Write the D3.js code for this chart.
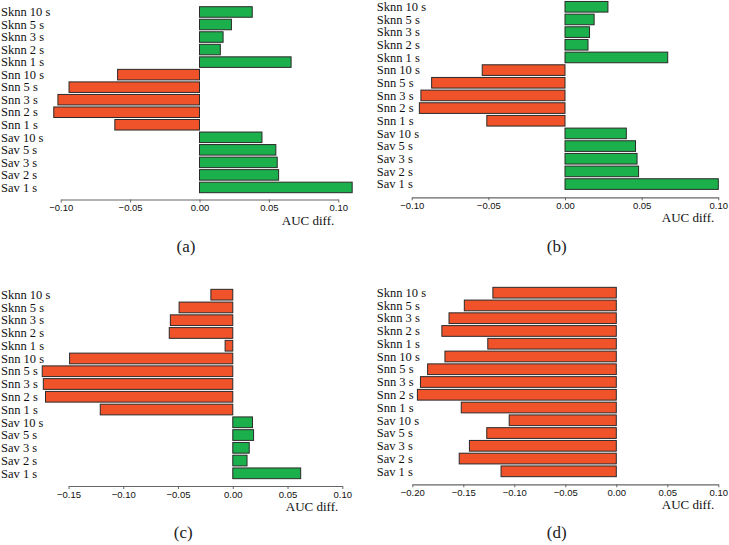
<!DOCTYPE html>
<html>
<head>
<meta charset="utf-8">
<script src="https://cdn.jsdelivr.net/npm/d3@7"></script>
<style>
  html, body { margin: 0; padding: 0; background: #fff; }
  svg { display: block; }
</style>
</head>
<body>
<svg id="chart" width="729" height="545"></svg>
<script>
// ---- data ----
const categories = ["Sknn 10 s","Sknn 5 s","Sknn 3 s","Sknn 2 s","Sknn 1 s",
                    "Snn 10 s","Snn 5 s","Snn 3 s","Snn 2 s","Snn 1 s",
                    "Sav 10 s","Sav 5 s","Sav 3 s","Sav 2 s","Sav 1 s"];
const valuesA = [0.038, 0.023, 0.017, 0.015, 0.066,
                 -0.059, -0.094, -0.102, -0.105, -0.061,
                 0.045, 0.055, 0.056, 0.057, 0.110];
const valuesB = [0.028, 0.019, 0.016, 0.015, 0.067,
                 -0.054, -0.087, -0.094, -0.095, -0.051,
                 0.040, 0.046, 0.047, 0.048, 0.100];
const valuesC = [-0.020, -0.049, -0.057, -0.058, -0.007,
                 -0.149, -0.174, -0.173, -0.171, -0.121,
                 0.018, 0.019, 0.015, 0.013, 0.062];
const valuesD = [-0.121, -0.149, -0.164, -0.171, -0.126,
                 -0.168, -0.185, -0.192, -0.195, -0.152,
                 -0.105, -0.127, -0.144, -0.154, -0.113];
const ticksA = [-0.10, -0.05, 0.00, 0.05, 0.10];
const ticksB = [-0.10, -0.05, 0.00, 0.05, 0.10];
const ticksC = [-0.15, -0.10, -0.05, 0.00, 0.05, 0.10];
const ticksD = [-0.20, -0.15, -0.10, -0.05, 0.00, 0.05, 0.10];
const panelLabels = ["(a)", "(b)", "(c)", "(d)"];
const axisTitle = "AUC diff.";

// ---- layout (positions only) ----
const layout = [
  { values: valuesA, ticks: ticksA, x0: 60.7,  x1: 338.3, y0: 5.7,   y1: 193.7, axisY: 199.5, labelX: 1,     capX: 186,   capY: 252 },
  { values: valuesB, ticks: ticksB, x0: 411.7, x1: 718.3, y0: 0.45,  y1: 190.4, axisY: 197.3, labelX: 376.7, capX: 556.7, capY: 252 },
  { values: valuesC, ticks: ticksC, x0: 68.5,  x1: 342.3, y0: 288.3, y1: 479.7, axisY: 486,   labelX: 1,     capX: 183.3, capY: 538 },
  { values: valuesD, ticks: ticksD, x0: 412.3, x1: 718.3, y0: 286.3, y1: 477.7, axisY: 484.3, labelX: 376.7, capX: 556.7, capY: 538 }
];

const GREEN = "#1bb04b", RED = "#f0532a", STROKE = "#2a2a2a";
const SERIF = "'Liberation Serif', 'Times New Roman', Times, serif";
const svg = d3.select("#chart");

layout.forEach((p, i) => {
  const g = svg.append("g");
  const x = d3.scaleLinear()
    .domain([p.ticks[0], p.ticks[p.ticks.length - 1]])
    .range([p.x0, p.x1]);
  const y = d3.scaleBand()
    .domain(categories)
    .range([p.y0, p.y1])
    .paddingInner(0.16)
    .paddingOuter(0.08);

  const data = categories.map((c, k) => ({ c, v: p.values[k] }));

  g.selectAll("rect.bar").data(data).join("rect")
    .attr("class", "bar")
    .attr("x", d => x(Math.min(0, d.v)))
    .attr("width", d => Math.abs(x(d.v) - x(0)))
    .attr("y", d => y(d.c))
    .attr("height", y.bandwidth())
    .attr("fill", d => d.v >= 0 ? GREEN : RED)
    .attr("stroke", STROKE)
    .attr("stroke-width", 1);

  g.selectAll("text.cat").data(categories).join("text")
    .attr("class", "cat")
    .attr("x", p.labelX)
    .attr("y", d => y(d) + y.bandwidth() / 2)
    .attr("dy", "0.34em")
    .attr("font-family", SERIF)
    .attr("font-size", "12.5px")
    .attr("fill", "#111")
    .text(d => d);

  const axis = d3.axisBottom(x)
    .tickValues(p.ticks)
    .tickSize(3)
    .tickSizeOuter(0)
    .tickPadding(2)
    .tickFormat(d3.format(".2f"));
  const ax = g.append("g")
    .attr("transform", `translate(0,${p.axisY})`)
    .call(axis);
  ax.select(".domain").attr("stroke", "#666").attr("stroke-width", 1.2);
  ax.selectAll(".tick line").attr("stroke", "#666").attr("stroke-width", 1);
  ax.selectAll(".tick text")
    .attr("font-family", "'Liberation Sans', Arial, sans-serif")
    .attr("font-size", "9.5px")
    .attr("fill", "#111");

  g.append("text")
    .attr("x", p.x1 - 4)
    .attr("y", p.axisY + 25)
    .attr("text-anchor", "end")
    .attr("font-family", SERIF)
    .attr("font-size", "13px")
    .attr("fill", "#111")
    .text(axisTitle);

  g.append("text")
    .attr("x", p.capX)
    .attr("y", p.capY)
    .attr("text-anchor", "middle")
    .attr("font-family", SERIF)
    .attr("font-size", "17px")
    .attr("fill", "#222")
    .text(panelLabels[i]);
});
</script>
</body>
</html>
